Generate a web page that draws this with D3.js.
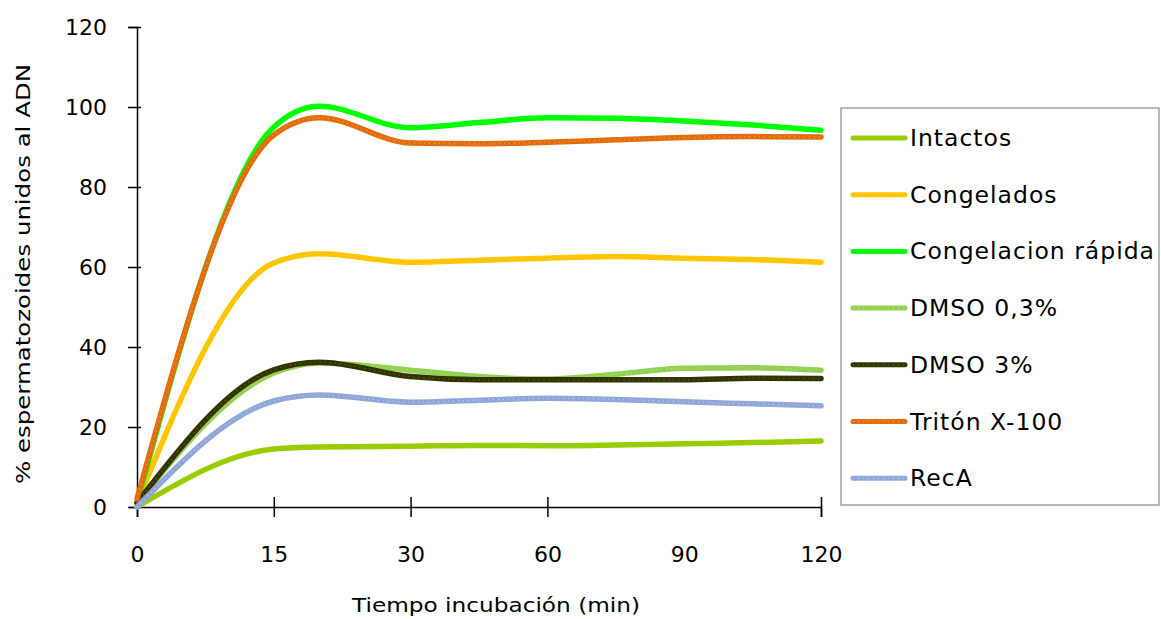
<!DOCTYPE html>
<html>
<head>
<meta charset="utf-8">
<script src="https://cdn.jsdelivr.net/npm/d3@7"></script>
<style>
  body { margin: 0; background: #fff; }
  svg text { fill: #000; }
</style>
</head>
<body>
<div id="chart"></div>
<script>
// sampling times (min) and the values
const times = [0, 15, 20, 30, 45, 60, 75, 90, 105, 120];
const xTickLabels = [0, 15, 30, 60, 90, 120];
const yTicks = [0, 20, 40, 60, 80, 100, 120];

const intactos    = [0, 14.5, 15, 15.2, 15.4, 15.3, 15.5, 15.8, 16.1, 16.5];
const congelados  = [1, 61, 63.3, 61.2, 61.7, 62.2, 62.6, 62.2, 61.9, 61.2];
const congRapida  = [1, 95, 100.2, 94.8, 96.1, 97.3, 97.2, 96.5, 95.5, 94.2];
const dmso03      = [1, 33.5, 36, 34.2, 32.6, 32, 33.2, 34.7, 34.8, 34.2];
const dmso3       = [1, 34.3, 36.2, 32.6, 31.8, 31.8, 31.8, 31.8, 32.2, 32.1];
const triton      = [2, 93, 97.3, 91, 90.8, 91.2, 91.8, 92.4, 92.6, 92.5];
const recA        = [0, 26.5, 28, 26.2, 26.7, 27.2, 26.9, 26.3, 25.8, 25.3];

const seriesNames = ["Intactos", "Congelados", "Congelacion rápida", "DMSO 0,3%", "DMSO 3%", "Tritón X-100", "RecA"];
const seriesValues = [intactos, congelados, congRapida, dmso03, dmso3, triton, recA];
const seriesColors = ["#99CC00", "#FFC600", "#00FF00", "#92D050", "#333300", "#E46C0A", "#8FA6D8"];
const seriesDots   = [null, null, null, "#B6E38A", "#6B6B1A", "#F2A35A", "#C3D0EE"];

const W = 1161, H = 619;
const margin = {top: 27, right: 340, bottom: 112, left: 137},
    width = W - margin.left - margin.right,
    height = H - margin.top - margin.bottom;

const svg = d3.select("#chart").append("svg")
    .attr("width", W)
    .attr("height", H);

const g = svg.append("g")
    .attr("transform", `translate(${margin.left},${margin.top})`);

// the labelled times sit at even steps along the axis
const x = d3.scaleLinear()
    .domain(xTickLabels)
    .range(xTickLabels.map((d, i) => i * width / (xTickLabels.length - 1)));

const y = d3.scaleLinear()
    .domain([0, 120])
    .range([height, 0]);

// Y axis
const yAxis = g.append("g")
    .call(d3.axisLeft(y).tickValues(yTicks).tickSize(8).tickPadding(22));
yAxis.select(".domain").attr("stroke", "#000").attr("stroke-width", 1.5);
yAxis.selectAll(".tick line").attr("x1", -9).attr("x2", 4).attr("stroke-width", 1.5);
yAxis.selectAll(".tick text")
    .style("font-family", "'DejaVu Sans', Verdana, sans-serif")
    .style("font-size", "22px");

// X axis (no tick mark at 90 in the original)
const xAxis = g.append("g")
    .attr("transform", `translate(0,${height})`)
    .call(d3.axisBottom(x).tickValues(xTickLabels).tickSize(10).tickPadding(29));
xAxis.select(".domain").attr("stroke", "#000").attr("stroke-width", 1.5);
xAxis.selectAll(".tick line").attr("y1", -10).attr("y2", 10).attr("stroke-width", 1.5)
    .filter(d => d === 90).remove();
xAxis.selectAll(".tick text")
    .style("font-family", "'DejaVu Sans', Verdana, sans-serif")
    .style("font-size", "22px");

// lines
const line = d3.line()
    .x((d, i) => x(times[i]))
    .y(d => y(d))
    .curve(d3.curveMonotoneX);

seriesValues.forEach((vals, k) => {
    g.append("path")
        .datum(vals)
        .attr("fill", "none")
        .attr("stroke", seriesColors[k])
        .attr("stroke-width", 5.5)
        .attr("stroke-linecap", "round")
        .attr("d", line);
    if (seriesDots[k]) {
        g.append("path")
            .datum(vals)
            .attr("fill", "none")
            .attr("stroke", seriesDots[k])
            .attr("stroke-width", 1.2)
            .attr("stroke-dasharray", "1 4")
            .attr("d", line);
    }
});

// axis titles
svg.append("text")
    .attr("transform", `translate(30,${margin.top + height / 2 + 7}) rotate(-90)`)
    .attr("text-anchor", "middle")
    .style("font-family", "'DejaVu Sans', sans-serif")
    .style("font-size", "20px")
    .attr("textLength", 420)
    .attr("lengthAdjust", "spacingAndGlyphs")
    .text("% espermatozoides unidos al ADN");

svg.append("text")
    .attr("x", 496)
    .attr("y", 612)
    .attr("text-anchor", "middle")
    .style("font-family", "'DejaVu Sans', sans-serif")
    .style("font-size", "20px")
    .attr("textLength", 288)
    .attr("lengthAdjust", "spacingAndGlyphs")
    .text("Tiempo incubación (min)");

// legend
const legend = svg.append("g").attr("transform", "translate(841,108)");
legend.append("rect")
    .attr("width", 318)
    .attr("height", 397)
    .attr("fill", "#fff")
    .attr("stroke", "#8a8a8a")
    .attr("stroke-width", 1.2);

const item = legend.selectAll(".item")
    .data(seriesNames)
    .join("g")
    .attr("class", "item")
    .attr("transform", (d, i) => `translate(0,${30 + i * 56.7})`);

item.append("line")
    .attr("x1", 12).attr("x2", 64)
    .attr("stroke", (d, i) => seriesColors[i])
    .attr("stroke-width", 5)
    .attr("stroke-linecap", "round");
item.filter((d, i) => seriesDots[i]).append("line")
    .attr("x1", 12).attr("x2", 64)
    .attr("stroke", d => seriesDots[seriesNames.indexOf(d)])
    .attr("stroke-width", 1.2)
    .attr("stroke-dasharray", "1 4");

item.append("text")
    .attr("x", 69)
    .attr("y", 8)
    .style("font-family", "'DejaVu Sans', sans-serif")
    .style("font-size", "23.5px")
    .style("letter-spacing", "1px")
    .text(d => d);
</script>
</body>
</html>
